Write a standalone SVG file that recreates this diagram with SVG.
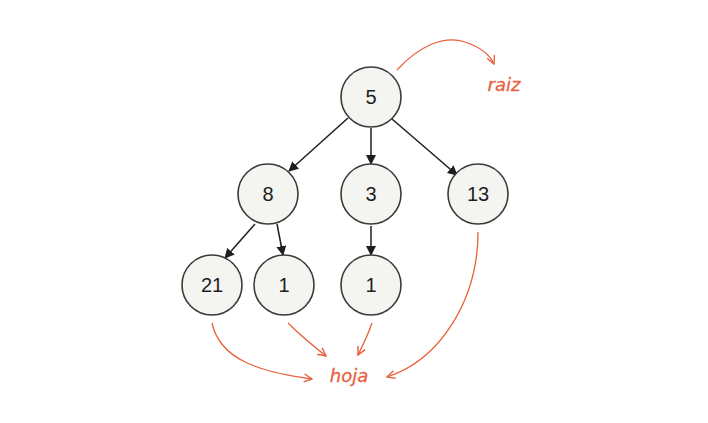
<svg xmlns="http://www.w3.org/2000/svg" width="708" height="423" viewBox="0 0 708 423">
<style>
.node circle{fill:#f4f4f0;stroke:#3a3a3a;stroke-width:1.6}
.node text{font-family:"Liberation Sans",Arial,sans-serif;font-size:20px;fill:#1e1e1e;text-anchor:middle;dominant-baseline:central}
.edge{stroke:#1e1e1e;stroke-width:1.5;fill:none;marker-end:url(#ah)}
.ann{stroke:#e8603c;stroke-width:1.3;fill:none;marker-end:url(#ra)}
.lab{font-family:"DejaVu Sans",sans-serif;font-style:italic;font-size:18px;fill:#e8603c;stroke:#e8603c;stroke-width:0.3;text-anchor:middle}
</style>
<defs>
<marker id="ah" viewBox="0 0 10 10" refX="9" refY="5" markerWidth="10" markerHeight="10" orient="auto" markerUnits="userSpaceOnUse">
<path d="M0,0 L10,5 L0,10 z" fill="#1e1e1e"/>
</marker>
<marker id="ra" viewBox="0 0 10 10" refX="9" refY="5" markerWidth="10" markerHeight="10" orient="auto" markerUnits="userSpaceOnUse">
<path d="M1,1 L9,5 L1,9" fill="none" stroke="#e8603c" stroke-width="1.4"/>
</marker>
</defs>
<rect width="708" height="423" fill="#ffffff"/>
<g id="connectors">
<line class="edge" x1="348" y1="118" x2="289" y2="171"/>
<line class="edge" x1="371" y1="128" x2="371" y2="164"/>
<line class="edge" x1="392" y1="119" x2="457" y2="175"/>
<line class="edge" x1="255" y1="224" x2="225" y2="258"/>
<line class="edge" x1="277" y1="224" x2="283" y2="255"/>
<line class="edge" x1="371" y1="226" x2="371" y2="255"/>
<path class="ann" d="M397,70 C420,45 445,35 465,42 C480,47 490,55 494,64"/>
<path class="ann" d="M212,323 C220,360 260,372 312,379"/>
<path class="ann" d="M288,323 C300,335 312,345 326,356"/>
<path class="ann" d="M372,323 C368,335 363,345 358,355"/>
<path class="ann" d="M478,232 C478,300 440,360 387,377"/>
</g>
<g id="n5" class="node"><circle cx="371" cy="97" r="30"/><text x="371" y="97">5</text></g>
<g id="n8" class="node"><circle cx="268" cy="194" r="30"/><text x="268" y="194">8</text></g>
<g id="n3" class="node"><circle cx="371" cy="194" r="30"/><text x="371" y="194">3</text></g>
<g id="n13" class="node"><circle cx="478" cy="194" r="30"/><text x="478" y="194">13</text></g>
<g id="n21" class="node"><circle cx="212" cy="285" r="30"/><text x="212" y="285">21</text></g>
<g id="n1a" class="node"><circle cx="284" cy="285" r="30"/><text x="284" y="285">1</text></g>
<g id="n1b" class="node"><circle cx="371" cy="285" r="30"/><text x="371" y="285">1</text></g>
<g id="raiz"><text class="lab" x="504" y="91">raiz</text></g>
<g id="hoja"><text class="lab" x="349" y="382">hoja</text></g>
</svg>
